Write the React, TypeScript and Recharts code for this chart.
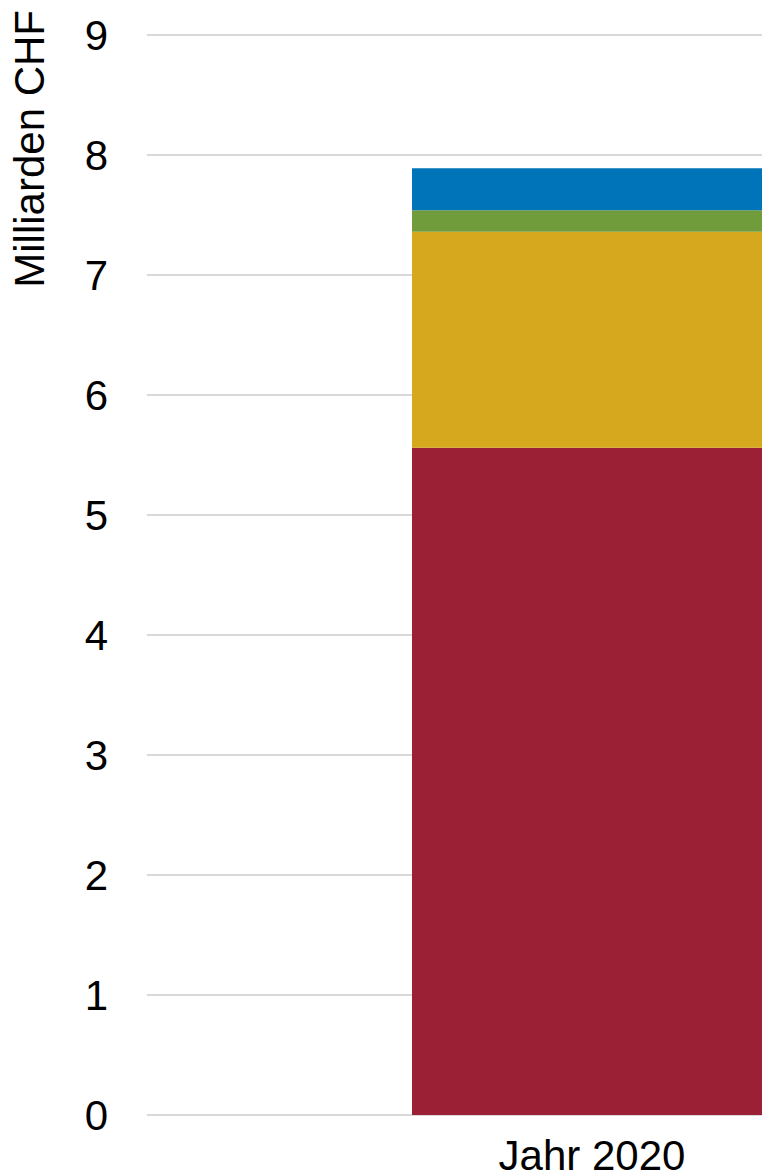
import React from 'react';
import { BarChart, Bar, XAxis, YAxis, CartesianGrid } from 'recharts';

const categories = ['Jahr 2020'];
const seriesRed = [5.56];
const seriesYellow = [1.8];
const seriesGreen = [0.18];
const seriesBlue = [0.35];
const yTicks = [0, 1, 2, 3, 4, 5, 6, 7, 8, 9];
const yAxisTitle = 'Milliarden CHF';

const data = categories.map((c, i) => ({
  name: c,
  red: seriesRed[i],
  yellow: seriesYellow[i],
  green: seriesGreen[i],
  blue: seriesBlue[i],
}));

const FONT = '"Liberation Sans", Arial, Helvetica, sans-serif';

const YTitle = (props: any) => {
  const vb = props.viewBox || {};
  const x = (vb.x ?? 0) + 29;
  const y = (vb.y ?? 0) - 25;
  return (
    <text
      x={x}
      y={y}
      transform={`rotate(-90, ${x}, ${y})`}
      textAnchor="end"
      dominantBaseline="central"
      fontSize={42}
      fontFamily={FONT}
      fill="#000"
    >
      {yAxisTitle}
    </text>
  );
};

export default function App() {
  return (
    <div style={{ position: 'absolute', left: 0, top: 0, width: 762, height: 1176, overflow: 'hidden', background: '#fff' }}>
      <BarChart
        width={1037}
        height={1176}
        data={data}
        margin={{ top: 35, right: 0, bottom: 0, left: 0 }}
        style={{ fontFamily: FONT }}
      >
        <CartesianGrid vertical={false} stroke="#d9d9d9" strokeWidth={2} />
        <XAxis
          dataKey="name"
          axisLine={false}
          tickLine={false}
          tickSize={0}
          tickMargin={25}
          height={61}
          tick={{ fontSize: 42, fill: '#000', fontFamily: FONT }}
        />
        <YAxis
          domain={[0, 9]}
          ticks={yTicks}
          axisLine={false}
          tickLine={false}
          tickSize={0}
          tickMargin={39}
          width={147}
          interval={0}
          tick={{ fontSize: 42, fill: '#000', fontFamily: FONT }}
          label={<YTitle />}
        />
        <Bar dataKey="red" stackId="a" fill="#9B2035" barSize={360} isAnimationActive={false} />
        <Bar dataKey="yellow" stackId="a" fill="#D6A81D" barSize={360} isAnimationActive={false} />
        <Bar dataKey="green" stackId="a" fill="#719C3C" barSize={360} isAnimationActive={false} />
        <Bar dataKey="blue" stackId="a" fill="#0074B8" barSize={360} isAnimationActive={false} />
      </BarChart>
    </div>
  );
}
